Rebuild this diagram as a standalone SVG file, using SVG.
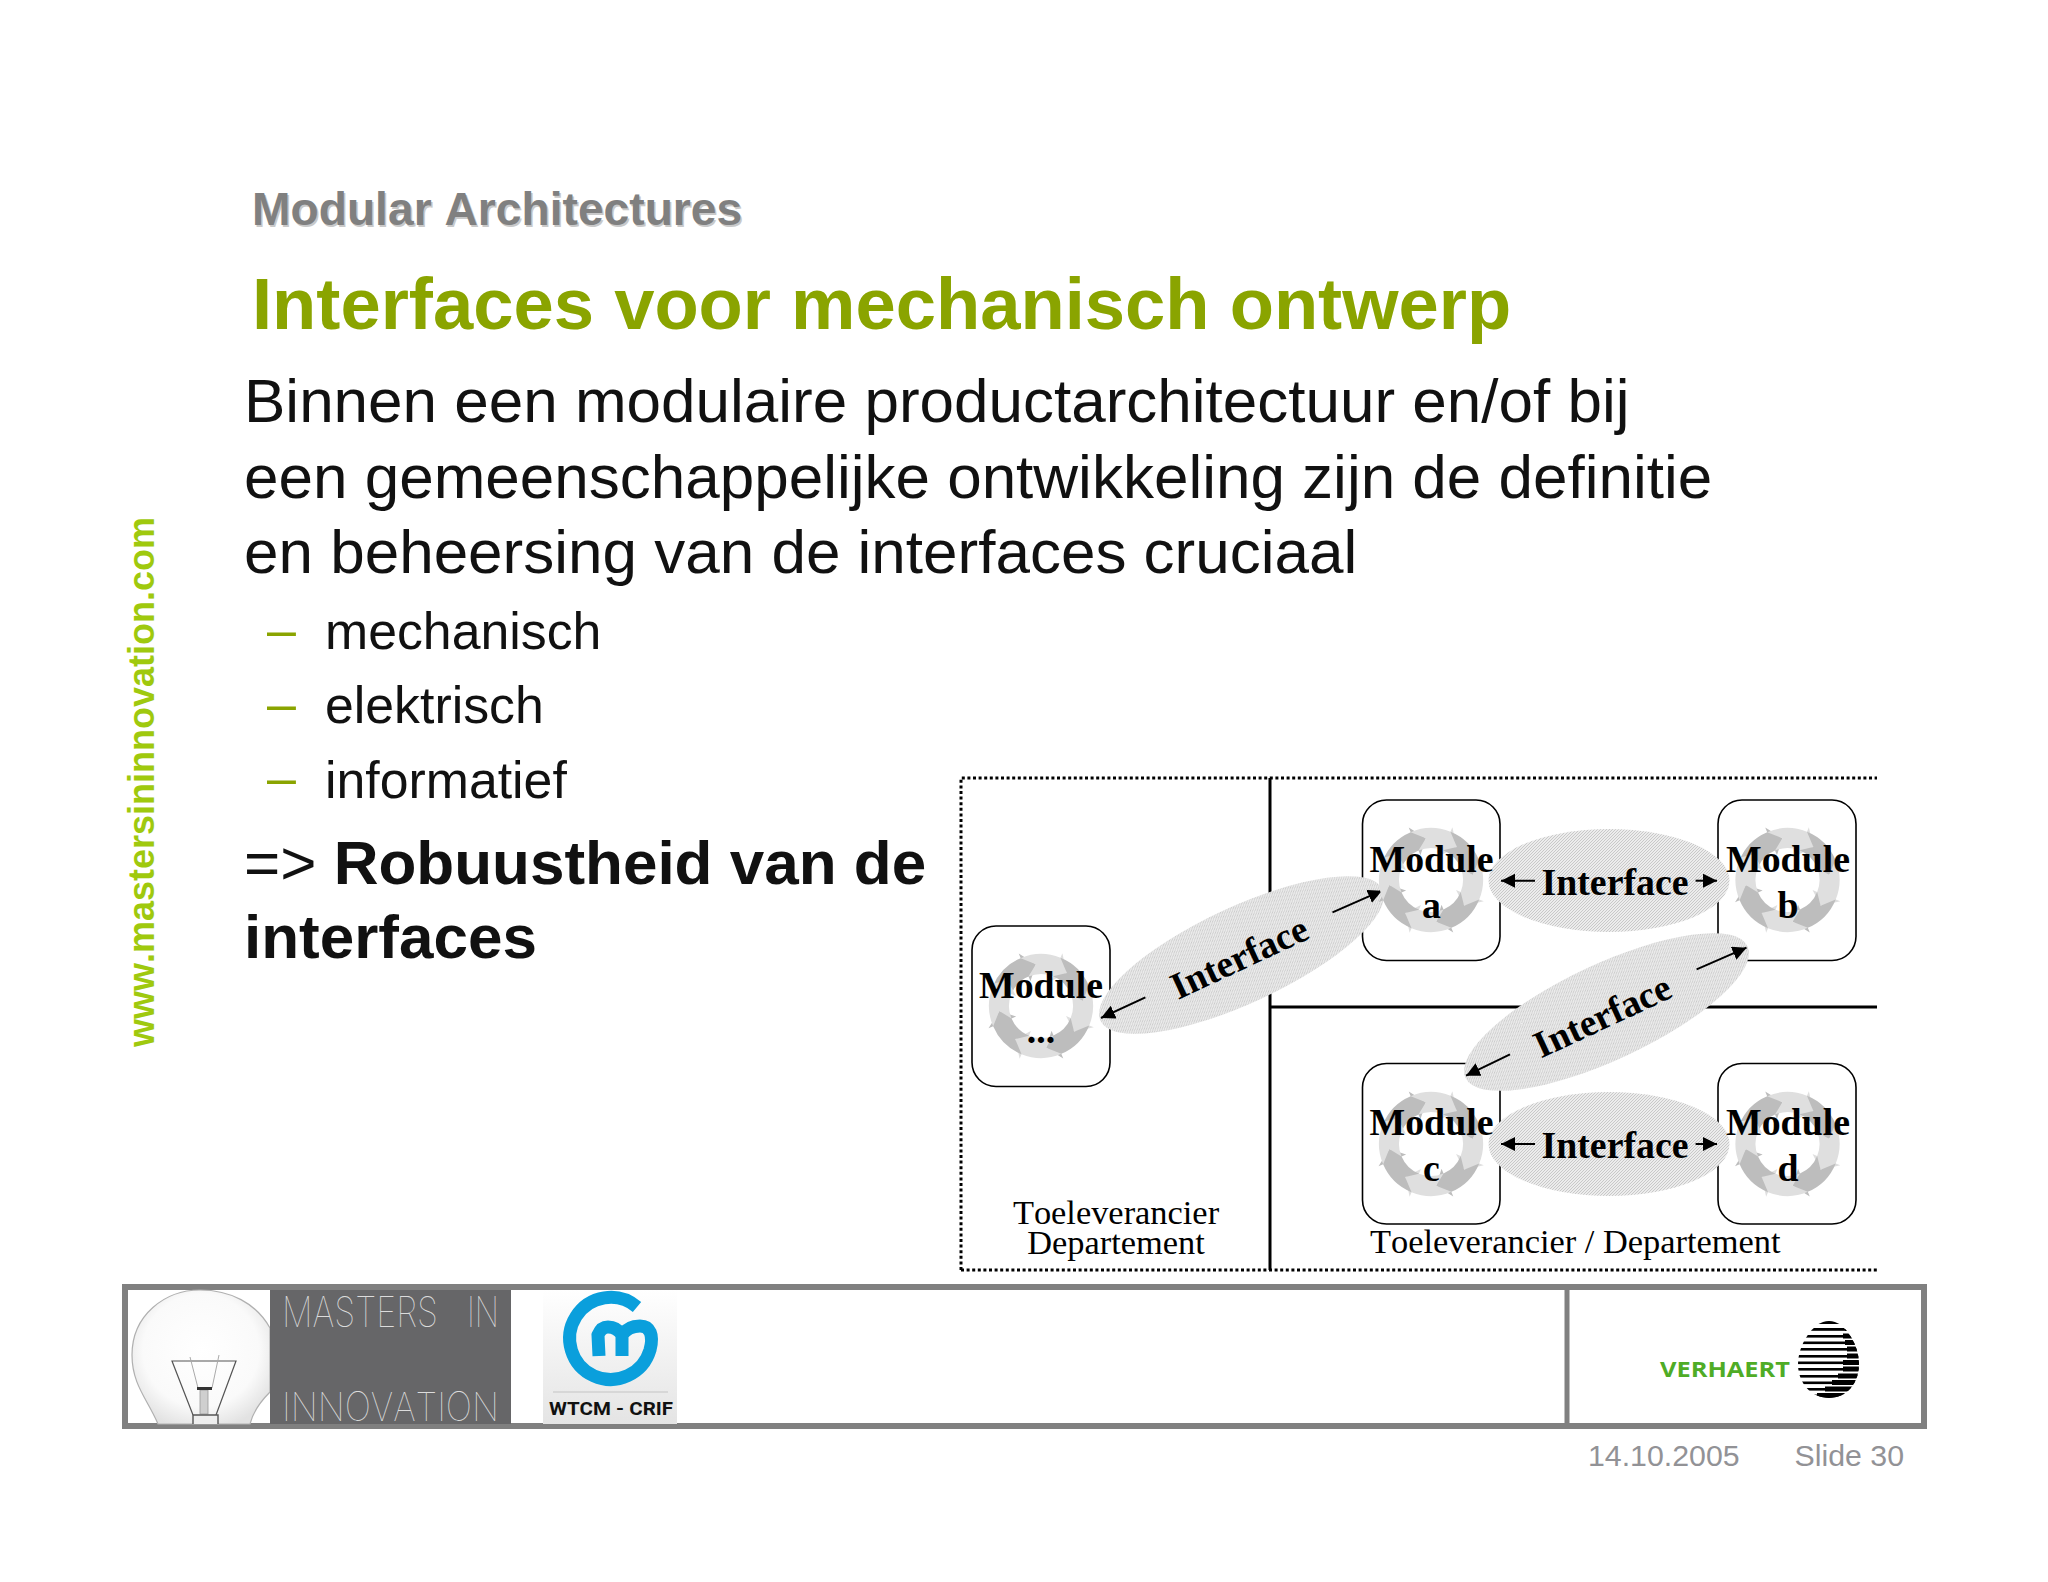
<svg xmlns="http://www.w3.org/2000/svg" width="2048" height="1582" viewBox="0 0 2048 1582">
<style>
text{font-family:"Liberation Sans",Arial,sans-serif;font-kerning:none}
.serif{font-family:"Liberation Serif","Times New Roman",serif;fill:#000}
.mod{font-size:37.8px;font-weight:700;text-anchor:middle}
.cap{font-size:34.4px}
.body{font-size:62px;fill:#111}
.list{font-size:51.8px;fill:#111}
.dash{font-size:52px;fill:#8aa400}
.frame{fill:#fff;stroke:#000;stroke-width:1.6}
.iface{fill:url(#hatch)}
.conn{fill:none;stroke:#000;stroke-width:2;marker-end:url(#head)}
.foot{fill:none;stroke:#808080;stroke-width:6}
.grey{font-size:30.3px;fill:#929296}
.mi{font-family:"Inter","Liberation Sans",sans-serif;font-weight:100;fill:#dcdcdc}
</style>
<defs>
<pattern id="hatch" width="3" height="3" patternUnits="userSpaceOnUse"><rect width="3" height="3" fill="#ececec"/><path d="M0 3L3 0M-1 1L1 -1M2 4L4 2" stroke="#c8c8c8" stroke-width="1"/></pattern>
<marker id="head" markerUnits="userSpaceOnUse" markerWidth="16" markerHeight="16" refX="14" refY="7" orient="auto"><path d="M0 0L14 7L0 14Z" fill="#000"/></marker>
<path id="seg" d="M36.77-36.77A52 52 0 0 1 52 0L57 0L40.37 11.58L27 0L32 0A32 32 0 0 0 22.63-22.63L36.73-20.36Z"/>
<g id="ring">
<use href="#seg" transform="rotate(-113)" fill="#bdbdbd"/><use href="#seg" transform="rotate(-68)" fill="#dfdfdf"/>
<use href="#seg" transform="rotate(-23)" fill="#bdbdbd"/><use href="#seg" transform="rotate(22)" fill="#dfdfdf"/>
<use href="#seg" transform="rotate(67)" fill="#bdbdbd"/><use href="#seg" transform="rotate(112)" fill="#dfdfdf"/>
<use href="#seg" transform="rotate(157)" fill="#bdbdbd"/><use href="#seg" transform="rotate(202)" fill="#dfdfdf"/>
</g>
<radialGradient id="bulb" cx="0.5" cy="0.45" r="0.6"><stop offset="0" stop-color="#fff"/><stop offset="0.7" stop-color="#fafafa"/><stop offset="1" stop-color="#e2e2e2"/></radialGradient>
<linearGradient id="wt" x1="0" y1="0" x2="0" y2="1"><stop offset="0" stop-color="#fff"/><stop offset="1" stop-color="#e4e4e4"/></linearGradient>
<clipPath id="egg"><path d="M1829 1321C1845 1321 1859 1345 1859 1364C1859 1384 1846 1398 1829 1398C1812 1398 1798 1384 1798 1364C1798 1345 1813 1321 1829 1321Z"/></clipPath>
</defs>
<rect width="2048" height="1582" fill="#fff"/>

<g id="heading">
<text x="253.5" y="227" font-size="46.2" font-weight="700" fill="#c9c9c9">Modular Architectures</text>
<text x="252" y="225" font-size="46.2" font-weight="700" fill="#808080">Modular Architectures</text>
<text x="252" y="329" font-size="72.4" font-weight="700" fill="#8aa400">Interfaces voor mechanisch ontwerp</text>
</g>
<text id="side-url" transform="translate(154 1047) rotate(-90)" font-size="36" font-weight="700" fill="#9fc90e">www.mastersininnovation.com</text>

<g id="body-text">
<text class="body" x="244" y="421.5">Binnen een modulaire productarchitectuur en/of bij</text>
<text class="body" x="244" y="497.5">een gemeenschappelijke ontwikkeling zijn de definitie</text>
<text class="body" x="244" y="572.5">en beheersing van de interfaces cruciaal</text>
<text class="dash" x="267" y="647">–</text><text class="list" x="325" y="649">mechanisch</text>
<text class="dash" x="267" y="721">–</text><text class="list" x="325" y="723">elektrisch</text>
<text class="dash" x="267" y="795">–</text><text class="list" x="325" y="797.5">informatief</text>
<text class="body" x="244" y="884">=&gt; <tspan font-weight="700">Robuustheid van de</tspan></text>
<text class="body" x="244" y="958" font-weight="700">interfaces</text>
</g>

<g id="partitions">
<path d="M961 1270V778H1877M961 1270H1877" fill="none" stroke="#000" stroke-width="3" stroke-dasharray="3 2.6"/>
<path d="M1270 778V1270M1270 1007H1877" fill="none" stroke="#000" stroke-width="3"/>
</g>
<g id="module-frames">
<rect class="frame" x="972" y="926" width="138" height="160.5" rx="24"/>
<rect class="frame" x="1362.5" y="800" width="137.5" height="160.5" rx="24"/>
<rect class="frame" x="1718" y="800" width="138" height="160.5" rx="24"/>
<rect class="frame" x="1362.5" y="1063.5" width="137.5" height="160.5" rx="24"/>
<rect class="frame" x="1718" y="1063.5" width="138" height="160.5" rx="24"/>
</g>
<g id="interface-x-a"><ellipse class="iface" cx="1241.5" cy="955" rx="155.6" ry="48" transform="rotate(-25 1241.5 955)"/><text class="serif mod" transform="translate(1239.5 958) rotate(-25) translate(0 12)">Interface</text></g>
<g id="interface-b-c"><ellipse class="iface" cx="1606.5" cy="1012" rx="155.6" ry="48" transform="rotate(-25 1606.5 1012)"/><text class="serif mod" transform="translate(1602.6 1016.7) rotate(-25) translate(0 12)">Interface</text></g>
<g id="interface-a-b"><ellipse class="iface" cx="1609" cy="880.5" rx="120.5" ry="51.5"/><text class="serif mod" x="1615" y="895">Interface</text></g>
<g id="interface-c-d"><ellipse class="iface" cx="1609" cy="1144" rx="120.5" ry="52"/><text class="serif mod" x="1615" y="1158">Interface</text></g>

<g id="connectors">
<path class="conn" d="M1535 880.7H1501"/><path class="conn" d="M1695.6 880.7H1717"/>
<path class="conn" d="M1535 1144H1501"/><path class="conn" d="M1695.6 1144H1717"/>
<path class="conn" d="M1332.5 912.3L1382 890.7"/><path class="conn" d="M1145.4 997.3L1101 1018"/>
<path class="conn" d="M1696.6 969.3L1746.5 947.7"/><path class="conn" d="M1510 1054.3L1466 1075.7"/>
</g>

<g id="module-x"><use href="#ring" transform="translate(1041 1006)"/><text class="serif mod" x="1041" y="998">Module</text><text class="serif mod" x="1041" y="1043">...</text></g>
<g id="module-a"><use href="#ring" transform="translate(1431 880)"/><text class="serif mod" x="1431.5" y="872">Module</text><text class="serif mod" x="1431.5" y="918">a</text></g>
<g id="module-b"><use href="#ring" transform="translate(1787.5 880)"/><text class="serif mod" x="1788" y="872">Module</text><text class="serif mod" x="1788" y="918">b</text></g>
<g id="module-c"><use href="#ring" transform="translate(1431 1144)"/><text class="serif mod" x="1431.5" y="1135">Module</text><text class="serif mod" x="1431.5" y="1181">c</text></g>
<g id="module-d"><use href="#ring" transform="translate(1787.5 1144)"/><text class="serif mod" x="1788" y="1135">Module</text><text class="serif mod" x="1788" y="1181">d</text></g>

<g id="captions">
<text class="serif cap" x="1116" y="1224" text-anchor="middle">Toeleverancier</text>
<text class="serif cap" x="1116" y="1254" text-anchor="middle">Departement</text>
<text class="serif cap" x="1370" y="1253">Toeleverancier / Departement</text>
</g>

<g id="footer">
<path class="foot" d="M125 1287H1924V1426H125Z"/>
<path d="M1567 1287V1426" stroke="#808080" stroke-width="5"/>
</g>
<g id="logo-masters">
<path d="M158 1424C148 1400 132 1385 132 1355C132 1315 165 1290 200 1290C230 1290 256 1303 270 1328V1392C260 1402 253 1412 250 1424Z" fill="url(#bulb)" stroke="#b0b0b0" stroke-width="1.2"/>
<path d="M193 1415L172 1361H236L216 1415" fill="none" stroke="#555" stroke-width="1.2"/>
<path d="M190 1357L198 1388M219 1355L212 1388" fill="none" stroke="#aaa" stroke-width="1"/>
<rect x="200" y="1390" width="8" height="24" fill="#cfcfcf" stroke="#999" stroke-width="0.8"/>
<path d="M197 1388.5H212" stroke="#333" stroke-width="3"/>
<path d="M193 1424V1415H218V1424" fill="#eee" stroke="#555" stroke-width="1.4"/>
<rect x="270" y="1290" width="241" height="134" fill="#666668"/>
<text class="mi" x="282" y="1327" font-size="42" textLength="156" lengthAdjust="spacingAndGlyphs">MASTERS</text>
<text class="mi" x="467" y="1327" font-size="42" textLength="32" lengthAdjust="spacingAndGlyphs">IN</text>
<text class="mi" x="282" y="1421" font-size="40" textLength="217" lengthAdjust="spacingAndGlyphs">INNOVATION</text>
</g>
<g id="logo-wtcm">
<rect x="543" y="1290" width="134" height="134" fill="url(#wt)"/>
<path d="M637 1307A41 41 0 1 0 650 1350C654 1335 650 1326 640 1326C632 1326 626 1329 622 1335C618 1329 614 1327 608 1327C603 1327 600 1330 598 1335L599 1356M622 1335V1356" fill="none" stroke="#0a9fdc" stroke-width="13"/>
<path d="M553 1392H668" stroke="#c4c4c4" stroke-width="1.2"/>
<text x="549" y="1415" font-size="18.5" font-weight="700" fill="#111" textLength="124" lengthAdjust="spacingAndGlyphs" style="font-family:Roboto,'Liberation Sans',sans-serif">WTCM - CRIF</text>
</g>
<g id="logo-verhaert">
<text x="1660" y="1377" font-size="22" font-weight="700" fill="#4fac26" textLength="130" lengthAdjust="spacingAndGlyphs" style="font-family:'Open Sans','Liberation Sans',sans-serif">VERHAERT</text>
<g clip-path="url(#egg)" fill="#000">
<rect x="1795" y="1321" width="70" height="3"/><rect x="1795" y="1328" width="70" height="2.8"/><rect x="1795" y="1335" width="70" height="2.6"/><rect x="1795" y="1341.5" width="70" height="2.6"/><rect x="1795" y="1348" width="70" height="2.6"/><rect x="1795" y="1355" width="70" height="2.6"/><rect x="1795" y="1361.5" width="70" height="2.6"/><rect x="1795" y="1368" width="70" height="2.6"/><rect x="1795" y="1375" width="70" height="2.6"/><rect x="1795" y="1381.5" width="70" height="2.6"/><rect x="1795" y="1388" width="70" height="2.6"/><rect x="1795" y="1394.5" width="70" height="3"/>
<rect x="1845" y="1327" width="20" height="4"/><rect x="1843" y="1333.5" width="22" height="5"/><rect x="1845" y="1340" width="20" height="5"/><rect x="1847" y="1346.5" width="18" height="5"/><rect x="1847" y="1353.5" width="18" height="5"/><rect x="1843" y="1360" width="22" height="5"/><rect x="1843" y="1366.5" width="22" height="5"/><rect x="1838" y="1373.5" width="27" height="5"/><rect x="1832" y="1380" width="33" height="5"/><rect x="1825" y="1386.5" width="40" height="5"/><rect x="1817" y="1393" width="48" height="5"/>
</g>
</g>
<g id="footer-text">
<text class="grey" x="1588" y="1466">14.10.2005</text>
<text class="grey" x="1794.5" y="1466">Slide 30</text>
</g>
</svg>
